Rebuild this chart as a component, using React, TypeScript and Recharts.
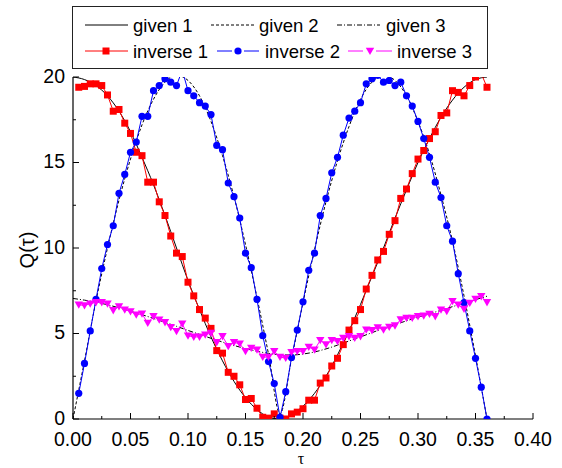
import { LineChart, Line, XAxis, YAxis } from "recharts";

// tau grid of the inverse (marker) series
const tInv = [
  0.005, 0.01, 0.015, 0.02, 0.025, 0.03, 0.035, 0.04, 0.045, 0.05,
  0.055, 0.06, 0.065, 0.07, 0.075, 0.08, 0.085, 0.09, 0.095, 0.1,
  0.105, 0.11, 0.115, 0.12, 0.125, 0.13, 0.135, 0.14, 0.145, 0.15,
  0.155, 0.16, 0.165, 0.17, 0.175, 0.18, 0.185, 0.19, 0.195, 0.2,
  0.205, 0.21, 0.215, 0.22, 0.225, 0.23, 0.235, 0.24, 0.245, 0.25,
  0.255, 0.26, 0.265, 0.27, 0.275, 0.28, 0.285, 0.29, 0.295, 0.3,
  0.305, 0.31, 0.315, 0.32, 0.325, 0.33, 0.335, 0.34, 0.345, 0.35,
  0.355, 0.36,
];

const inverse1 = [
  19.4, 19.45, 19.6, 19.6, 19.5, 18.95, 18.0, 18.1, 17.3, 16.7,
  15.6, 15.4, 13.85, 13.85, 12.7, 11.9, 10.7, 9.7, 9.5, 8.0,
  7.2, 6.4, 5.9, 5.3, 4.0, 3.85, 2.73, 2.5, 2.0, 1.14,
  1.2, 0.63, 0.1, 0.05, 0.3, 0.05, 0.0, 0.3, 0.4, 0.6,
  1.1, 1.1, 2.1, 2.4, 3.1, 3.55, 4.35, 5.2, 5.75, 6.4,
  7.6, 8.4, 9.3, 9.8, 10.8, 11.6, 12.9, 13.45, 14.35, 15.2,
  15.7, 16.4, 16.8, 17.75, 17.9, 19.2, 19.1, 18.9, 19.5, 20.0,
  20.2, 19.4,
];

const inverse2 = [
  1.5, 3.25, 5.15, 7.0, 8.8, 10.2, 11.3, 13.2, 14.3, 15.6,
  16.2, 17.7, 17.7, 19.2, 19.5, 19.9, 19.7, 19.5, 20.4, 19.2,
  18.9, 18.5, 18.3, 17.8, 16.0, 15.75, 13.8, 13.0, 11.75, 9.7,
  8.85, 7.0, 4.87, 3.36, 2.07, 0.1, 1.6, 3.6, 5.2, 6.85,
  8.7, 9.7, 11.9, 12.9, 14.4, 15.3, 16.6, 17.6, 18.0, 18.5,
  19.6, 19.9, 20.1, 19.7, 19.8, 19.5, 19.7, 18.9, 18.3, 17.4,
  16.4, 15.3, 13.85, 12.95, 11.3, 10.4, 8.5, 6.8, 5.15, 3.55,
  1.86, 0.0,
];

const inverse3 = [
  6.68, 6.64, 6.74, 6.82, 6.82, 6.74, 6.35, 6.58, 6.39, 6.29,
  6.1, 6.15, 5.61, 6.0, 5.8, 5.65, 5.36, 5.13, 5.57, 4.87,
  4.8, 4.8, 4.93, 5.03, 4.48, 4.83, 4.25, 4.48, 4.4, 3.96,
  4.15, 4.05, 3.62, 3.62, 3.96, 3.62, 3.56, 3.9, 3.96, 3.96,
  4.21, 4.05, 4.6, 4.35, 4.6, 4.54, 4.74, 4.83, 4.74, 4.83,
  5.22, 5.18, 5.35, 5.22, 5.38, 5.46, 5.81, 5.9, 5.9, 6.0,
  6.04, 6.14, 6.0, 6.39, 6.3, 6.88, 6.68, 6.43, 6.78, 7.02,
  7.17, 6.82,
];

// tau grid of the given (smooth) curves
const tGiven = [
  0, 0.01, 0.02, 0.03, 0.04, 0.05, 0.06, 0.07, 0.08, 0.09,
  0.1, 0.11, 0.12, 0.13, 0.14, 0.15, 0.16, 0.17, 0.18, 0.19,
  0.2, 0.21, 0.22, 0.23, 0.24, 0.25, 0.26, 0.27, 0.28, 0.29,
  0.3, 0.31, 0.32, 0.33, 0.34, 0.35, 0.36,
];

const given1 = [
  20.0, 19.85, 19.5, 18.9, 18.0, 16.8, 15.3, 13.7, 11.9, 10.0,
  8.1, 6.4, 4.8, 3.4, 2.2, 1.25, 0.55, 0.12, 0.0, 0.25,
  0.75, 1.5, 2.5, 3.75, 5.15, 6.7, 8.35, 10.0, 11.75, 13.4,
  15.0, 16.4, 17.65, 18.65, 19.4, 19.85, 20.0,
];

const given2 = [
  0.0, 3.4, 6.9, 10.0, 12.8, 15.2, 17.2, 18.7, 19.7, 20.1,
  19.8, 18.9, 17.4, 15.4, 13.0, 10.2, 7.1, 3.8, 0.3, 3.5,
  6.8, 9.9, 12.7, 15.1, 17.1, 18.7, 19.7, 20.1, 19.8, 18.9,
  17.4, 15.5, 13.1, 10.4, 7.2, 3.7, 0.0,
];

const given3 = [
  7.05, 6.95, 6.83, 6.68, 6.5, 6.3, 6.1, 5.88, 5.65, 5.42,
  5.18, 4.95, 4.72, 4.5, 4.3, 4.12, 3.96, 3.84, 3.76, 3.74,
  3.8, 3.92, 4.1, 4.32, 4.56, 4.8, 5.05, 5.3, 5.52, 5.74,
  5.95, 6.15, 6.36, 6.57, 6.78, 6.98, 7.18,
];

const xTicks = [
  0, 0.025, 0.05, 0.075, 0.1, 0.125, 0.15, 0.175, 0.2,
  0.225, 0.25, 0.275, 0.3, 0.325, 0.35, 0.375, 0.4,
];
const yTicks = [0, 2.5, 5, 7.5, 10, 12.5, 15, 17.5, 20];

const FONT = "'Liberation Sans', Arial, Helvetica, sans-serif";

const toRows = (ts: number[], qs: number[]) =>
  ts.map((t, i) => ({ t, q: qs[i] }));

const isMajor = (v: number, step: number) =>
  Math.abs(v / step - Math.round(v / step)) < 1e-6;

const XTick = (props: any) => {
  const { x, y, payload } = props;
  const major = isMajor(payload.value, 0.05);
  return (
    <g>
      <line x1={x} x2={x} y1={y} y2={y - (major ? 6 : 3)} stroke="#000" />
      {major && (
        <text x={x} y={y + 26.5} textAnchor="middle" fontSize={19.5} fontFamily={FONT} fill="#000">
          {payload.value.toFixed(2)}
        </text>
      )}
    </g>
  );
};

const YTick = (props: any) => {
  const { x, y, payload } = props;
  const major = isMajor(payload.value, 5);
  return (
    <g>
      <line x1={x} x2={x + (major ? 6 : 3)} y1={y} y2={y} stroke="#000" />
      {major && (
        <text x={x - 8} y={y + 5.5} textAnchor="end" fontSize={19.5} fontFamily={FONT} fill="#000">
          {payload.value}
        </text>
      )}
    </g>
  );
};

const Square = (props: any) => {
  const { cx, cy, index } = props;
  if (cx == null || cy == null) return <g key={`s-${index}`} />;
  return <rect key={`s-${index}`} x={cx - 3.5} y={cy - 3.5} width={7} height={7} fill="#ff0000" />;
};

const Circle = (props: any) => {
  const { cx, cy, index } = props;
  if (cx == null || cy == null) return <g key={`c-${index}`} />;
  return <circle key={`c-${index}`} cx={cx} cy={cy} r={3.6} fill="#0000ff" />;
};

const Tri = (props: any) => {
  const { cx, cy, index } = props;
  if (cx == null || cy == null) return <g key={`t-${index}`} />;
  return (
    <path
      key={`t-${index}`}
      d={`M${cx - 4.2},${cy - 3.3} L${cx + 4.2},${cy - 3.3} L${cx},${cy + 4} Z`}
      fill="#ff00ff"
    />
  );
};

function LegendBox() {
  const r1 = 25;
  const r2 = 51;
  const txt = { fontSize: 18.5, fontFamily: FONT, fill: "#000" } as const;
  return (
    <svg
      width={562}
      height={468}
      style={{ position: "absolute", left: 0, top: 0, pointerEvents: "none" }}
    >
      <rect x={72.5} y={6.5} width={415} height={62} fill="#fff" stroke="#222" strokeWidth={1} />
      <line x1={85} x2={128} y1={r1} y2={r1} stroke="#000" />
      <text x={133} y={r1 + 6.5} {...txt}>given 1</text>
      <line x1={211} x2={254} y1={r1} y2={r1} stroke="#000" strokeDasharray="3 2" />
      <text x={259} y={r1 + 6.5} {...txt}>given 2</text>
      <line x1={337} x2={380} y1={r1} y2={r1} stroke="#000" strokeDasharray="5 2 1 2" />
      <text x={386} y={r1 + 6.5} {...txt}>given 3</text>

      <line x1={85} x2={128} y1={r2} y2={r2} stroke="#ff0000" />
      <rect x={102.5} y={r2 - 3.5} width={7} height={7} fill="#ff0000" />
      <text x={133} y={r2 + 6.5} {...txt}>inverse 1</text>
      <line x1={217} x2={232} y1={r2} y2={r2} stroke="#0000ff" />
      <line x1={244} x2={259} y1={r2} y2={r2} stroke="#0000ff" />
      <circle cx={238} cy={r2} r={3.6} fill="#0000ff" />
      <text x={265} y={r2 + 6.5} {...txt}>inverse 2</text>
      <line x1={348} x2={363} y1={r2} y2={r2} stroke="#ff00ff" />
      <line x1={376} x2={392} y1={r2} y2={r2} stroke="#ff00ff" />
      <path d={`M${365.8},${r2 - 3.3} L${374.2},${r2 - 3.3} L${370},${r2 + 4} Z`} fill="#ff00ff" />
      <text x={397} y={r2 + 6.5} {...txt}>inverse 3</text>

      <text
        transform="translate(34,250) rotate(-90)"
        textAnchor="middle"
        fontSize={20}
        fontFamily={FONT}
        fill="#000"
      >
        Q(τ)
      </text>
      <text x={301} y={464} textAnchor="middle" fontSize={16} fontFamily="'Liberation Serif', serif" fill="#000">
        τ
      </text>
    </svg>
  );
}

export default function App() {
  return (
    <div style={{ position: "absolute", left: 0, top: 0, width: 562, height: 468, background: "#fff" }}>
      <LineChart
        width={562}
        height={468}
        margin={{ top: 77, right: 29, bottom: 19, left: 33 }}
      >
        <XAxis
          type="number"
          dataKey="t"
          domain={[0, 0.4]}
          ticks={xTicks}
          allowDataOverflow
          height={30}
          tickSize={0}
          tickMargin={0}
          tickLine={false}
          tick={<XTick />}
          axisLine={{ stroke: "#000", strokeWidth: 1.2 }}
          interval={0}
        />
        <YAxis
          type="number"
          domain={[0, 20]}
          ticks={yTicks}
          allowDataOverflow
          width={40}
          tickSize={0}
          tickMargin={0}
          tickLine={false}
          tick={<YTick />}
          axisLine={{ stroke: "#000", strokeWidth: 1.2 }}
          interval={0}
        />
        <Line data={toRows(tGiven, given1)} dataKey="q" type="monotone" stroke="#000" strokeWidth={1} dot={false} isAnimationActive={false} />
        <Line data={toRows(tGiven, given2)} dataKey="q" type="monotone" stroke="#000" strokeWidth={1} strokeDasharray="3 2" dot={false} isAnimationActive={false} />
        <Line data={toRows(tGiven, given3)} dataKey="q" type="monotone" stroke="#000" strokeWidth={1} strokeDasharray="5 2 1 2" dot={false} isAnimationActive={false} />
        <Line data={toRows(tInv, inverse1)} dataKey="q" type="linear" stroke="#ff0000" strokeWidth={1} dot={Square} isAnimationActive={false} />
        <Line data={toRows(tInv, inverse2)} dataKey="q" type="linear" stroke="#0000ff" strokeWidth={1} dot={Circle} isAnimationActive={false} />
        <Line data={toRows(tInv, inverse3)} dataKey="q" type="linear" stroke="#ff00ff" strokeWidth={1} dot={Tri} isAnimationActive={false} />
      </LineChart>
      <LegendBox />
    </div>
  );
}
